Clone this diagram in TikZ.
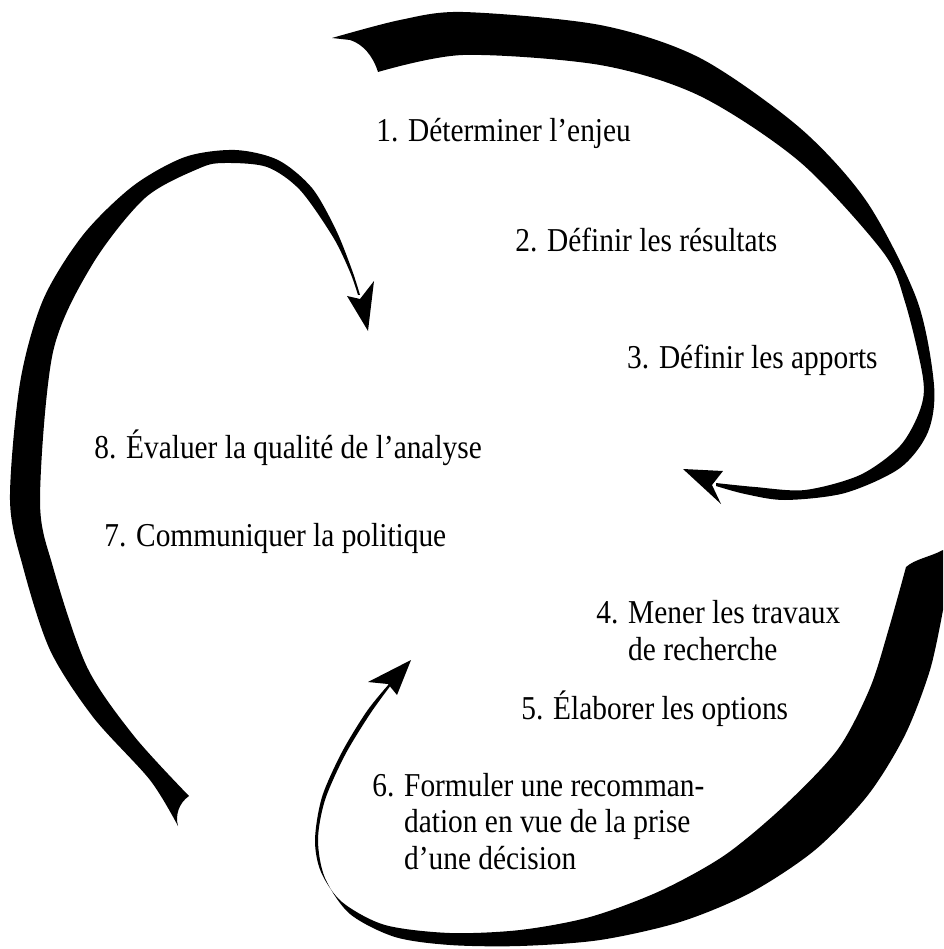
\documentclass[tikz,border=0pt]{standalone}
\usepackage{fontspec}
\setmainfont{Liberation Serif}[FakeStretch=0.88]
\usepackage{tikz}
\tikzset{>=latex}
\tikzset{step label/.style={anchor=base west,inner sep=0pt,align=left,
    font=\fontsize{19}{20.5}\selectfont}}

\begin{document}
\begin{tikzpicture}[x=0.02cm,y=-0.02cm]
            \draw[draw=none,use as bounding box] (0,0) rectangle (943,949);
            % upper arrow, from the top round to the right
            \coordinate (a1) at (332,38);
            \coordinate (a2) at (378,72);
            \coordinate (a3) at (683,469);
            \fill (a1) -- plot[smooth] coordinates {(332,38) (400,20) (463,12) (600,25) (700,58) (800,128)
                (867,202) (917,300) (934,385) (928,432) (900,468) (845,493) (785,500) (745,494) (716,486)}
                -- plot[smooth] coordinates {(716,483) (755,487) (805,490) (860,475) (900,446) (920,410)
                (923,378) (905,302) (883,252) (800,162) (700,96) (600,65) (463,55) (378,72)}
                .. controls (373,56) and (363,44) .. (350,40) -- cycle;
            \fill (a3) -- (723,471) -- (712,485) -- (721,504) -- cycle;
            % left arrow, from the bottom up and over
            \coordinate (c1) at (178,826);
            \coordinate (c2) at (189,796);
            \coordinate (c3) at (368,331);
            \fill (c1) -- plot[smooth] coordinates {(178,826) (150,780) (93,717) (50,650) (23,567) (10,500)
                (20,383) (43,300) (83,235) (133,186) (185,157) (235,150) (278,160) (312,188) (336,230)
                (352,270) (360,295)}
                -- plot[smooth] coordinates {(358,295) (350,272) (333,237) (300,190) (267,167) (225,163)
                (200,168) (145,198) (92,265) (53,352) (40,500) (53,567) (87,667) (134,736) (189,796)}
                .. controls (179,803) and (175,815) .. (178,826) -- cycle;
            \fill (c3) -- (347,296) -- (360,299) -- (374,281) -- cycle;
            % lower arrow, from the right round the bottom and up
            \coordinate (b1) at (943,550);
            \coordinate (b2) at (906,567);
            \coordinate (b3) at (411,660);
            \fill (b1) -- (943,610) -- plot[smooth] coordinates {(943,610) (930,670) (905,735) (868,795)
                (815,850) (750,893) (680,922) (600,940) (520,946) (450,945) (395,937) (350,914) (325,878)
                (318,840) (325,800) (345,755) (370,714) (391,685)}
                -- plot[smooth] coordinates {(389,684) (367,711) (342,752) (322,797) (315,840) (321,872)
                (342,902) (385,925) (450,933) (520,930) (590,917) (660,891) (725,855) (785,805)
                (838,749) (870,688) (889,628) (906,567)}
                .. controls (915,559) and (930,557) .. (943,550) -- cycle;
            \fill (b3) -- (368,682) -- (388,684) -- (397,695) -- cycle;
            \node[step label] (t1) at (376,142) {1. Déterminer l’enjeu};
            \node[step label] (t2) at (515,252) {2. Définir les résultats};
            \node[step label,anchor=base east] (t3) at (878,368) {3. Définir les apports};
            \node[step label] (t4) at (596,660) {4. Mener les travaux\\\hphantom{4. }de recherche};
            \node[step label] (t5) at (521,719) {5. Élaborer les options};
            \node[step label] (t6) at (372,869) {6. Formuler une recomman-\\\hphantom{6. }dation en vue de la prise\\\hphantom{6. }d’une décision};
            \node[step label] (t7) at (104,546) {7. Communiquer la politique};
            \node[step label] (t8) at (94,458) {8. Évaluer la qualité de l’analyse};
        \end{tikzpicture}
\end{document}
